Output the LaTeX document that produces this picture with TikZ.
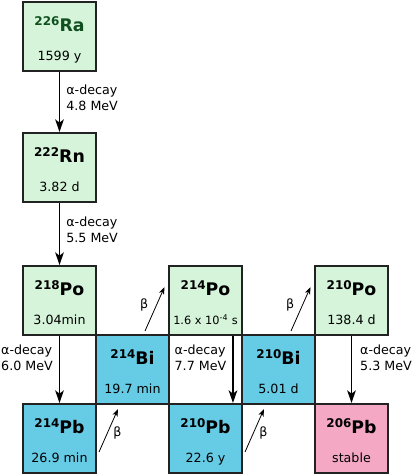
\documentclass[tikz,border=0pt]{standalone}
\usepackage{fontspec}
\setmainfont{DejaVu Sans}
\usetikzlibrary{arrows.meta}

\definecolor{boxgreen}{RGB}{213,244,218}
\definecolor{boxblue}{RGB}{102,204,230}
\definecolor{boxpink}{RGB}{244,168,196}
\definecolor{ragreen}{RGB}{16,80,30}
\definecolor{edge}{RGB}{34,34,34}

\newcommand{\nuc}[2]{\raisebox{4.2pt}{\fontsize{9}{9}\selectfont #1}#2}

\begin{document}
\begin{tikzpicture}[
		x=0.75pt, y=0.75pt,
		box/.style={draw=edge, line width=1.5pt, minimum width=54.75pt, minimum height=51.75pt, inner sep=0pt},
		nuc/.style={anchor=base, inner sep=0pt, font=\fontsize{13}{15}\selectfont\bfseries},
		hl/.style={anchor=base, inner sep=0pt, font=\fontsize{9.5}{11}\selectfont},
		lbl/.style={inner sep=0pt, align=left, font=\fontsize{9.5}{12}\selectfont},
		decay/.style={-{Stealth[length=9.5pt, width=6.5pt, inset=2.5pt]}, line width=1.1pt},
		beta/.style={-{Stealth[length=5.5pt, width=4pt, inset=1.5pt]}, line width=0.6pt}
		]
		\useasboundingbox (0,0) rectangle (414,475);
		
		% Boxes: green = Po / Ra / Rn, blue = Bi / Pb, pink = stable end
		\node[box, fill=boxgreen] (ra) at (59.5,438.5) {};
		\node[box, fill=boxgreen] (rn) at (59.5,307.5) {};
		\node[box, fill=boxgreen] (po218) at (59.5,174.5) {};
		\node[box, fill=boxgreen] (po214) at (205.5,174.5) {};
		\node[box, fill=boxgreen] (po210) at (351.5,174.5) {};
		\node[box, fill=boxblue] (bi214) at (132.5,105.5) {};
		\node[box, fill=boxblue] (bi210) at (278.5,105.5) {};
		\node[box, fill=boxblue] (pb214) at (59.5,36.5) {};
		\node[box, fill=boxblue] (pb210) at (205.5,36.5) {};
		\node[box, fill=boxpink] (pb206) at (351.5,36.5) {};
		
		% Nuclide names and half-lives
		\node[nuc, text=ragreen] (ra-n) at ([yshift=-22.8pt]ra.north) {\nuc{226}{Ra}};
		\node[hl] (ra-t) at ([yshift=-44.6pt]ra.north) {1599 y};
		\node[nuc] (rn-n) at ([yshift=-22.8pt]rn.north) {\nuc{222}{Rn}};
		\node[hl] (rn-t) at ([yshift=-44.6pt]rn.north) {3.82 d};
		\node[nuc] (po218-n) at ([yshift=-22.8pt]po218.north) {\nuc{218}{Po}};
		\node[hl] (po218-t) at ([yshift=-44.6pt]po218.north) {3.04min};
		\node[nuc] (po214-n) at ([yshift=-22.8pt]po214.north) {\nuc{214}{Po}};
		\node[hl, font=\fontsize{8.5}{10}\selectfont] (po214-t) at ([yshift=-44.6pt]po214.north) {1.6 x 10\textsuperscript{-4} s};
		\node[nuc] (po210-n) at ([yshift=-22.8pt]po210.north) {\nuc{210}{Po}};
		\node[hl] (po210-t) at ([yshift=-44.6pt]po210.north) {138.4 d};
		\node[nuc] (bi214-n) at ([yshift=-22.8pt]bi214.north) {\nuc{214}{Bi}};
		\node[hl] (bi214-t) at ([yshift=-44.6pt]bi214.north) {19.7 min};
		\node[nuc] (bi210-n) at ([yshift=-22.8pt]bi210.north) {\nuc{210}{Bi}};
		\node[hl] (bi210-t) at ([yshift=-44.6pt]bi210.north) {5.01 d};
		\node[nuc] (pb214-n) at ([yshift=-22.8pt]pb214.north) {\nuc{214}{Pb}};
		\node[hl] (pb214-t) at ([yshift=-44.6pt]pb214.north) {26.9 min};
		\node[nuc] (pb210-n) at ([yshift=-22.8pt]pb210.north) {\nuc{210}{Pb}};
		\node[hl] (pb210-t) at ([yshift=-44.6pt]pb210.north) {22.6 y};
		\node[nuc] (pb206-n) at ([yshift=-22.8pt]pb206.north) {\nuc{206}{Pb}};
		\node[hl] (pb206-t) at ([yshift=-44.6pt]pb206.north) {stable};
		
		% Alpha decays
		\draw[decay] (ra) -- (rn) node[lbl, pos=0.43, right=4.6pt] (a1) {α-decay\\4.8 MeV};
		\draw[decay] (rn) -- (po218) node[lbl, pos=0.43, right=4.6pt] (a2) {α-decay\\5.5 MeV};
		\draw[decay] (po218) -- (pb214) node[lbl, pos=0.33, left=4.5pt] (a3) {α-decay\\6.0 MeV};
		\draw[decay] ([xshift=20.6pt]po214.south) -- ([xshift=20.6pt]pb210.north) node[lbl, pos=0.33, left=4.5pt] (a4) {α-decay\\7.7 MeV};
		\draw[decay] (po210) -- (pb206) node[lbl, pos=0.33, right=6pt] (a5) {α-decay\\5.3 MeV};
		
		% Beta decays
		\draw[beta] ([shift={(12.5,3)}]bi214.north) -- ([shift={(-3.5,13.5)}]po214.west) node[pos=0.6, left=6pt, inner sep=0pt, font=\fontsize{9.5}{11}\selectfont] (b1) {β};
		\draw[beta] ([shift={(12.5,3)}]bi210.north) -- ([shift={(-3.5,13.5)}]po210.west) node[pos=0.6, left=6pt, inner sep=0pt, font=\fontsize{9.5}{11}\selectfont] (b2) {β};
		\draw[beta] ([shift={(2,-13.5)}]pb214.east) -- ([shift={(-14.5,-4)}]bi214.south) node[pos=0.45, right=4pt, inner sep=0pt, font=\fontsize{9.5}{11}\selectfont] (b3) {β};
		\draw[beta] ([shift={(2,-13.5)}]pb210.east) -- ([shift={(-14.5,-4)}]bi210.south) node[pos=0.45, right=4pt, inner sep=0pt, font=\fontsize{9.5}{11}\selectfont] (b4) {β};
	\end{tikzpicture}
\end{document}
